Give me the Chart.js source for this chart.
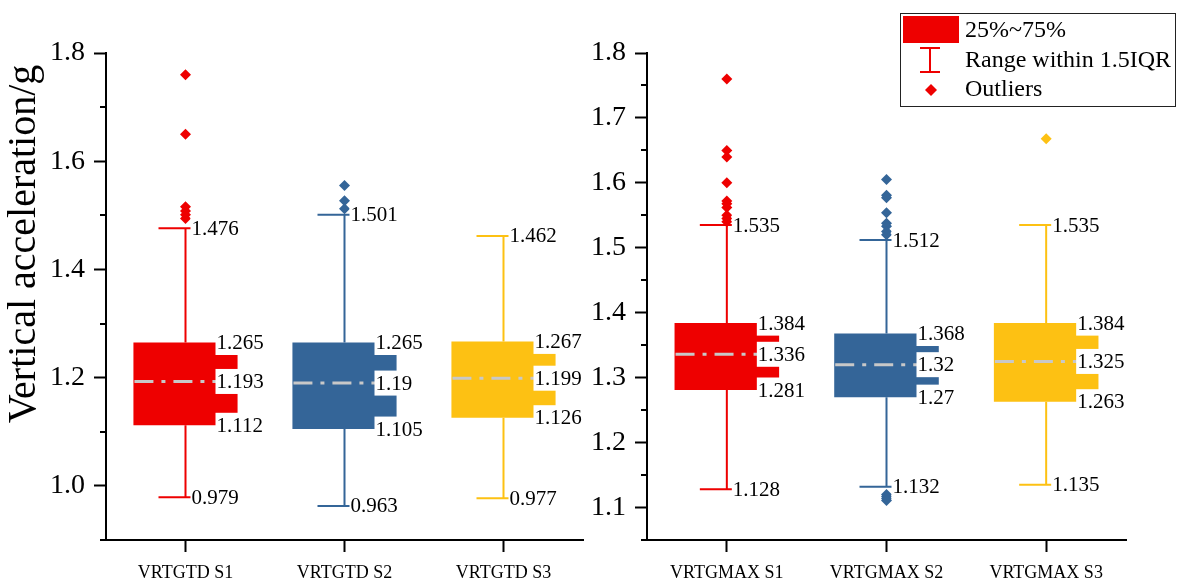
<!DOCTYPE html>
<html>
<head>
<meta charset="utf-8">
<script src="https://cdn.jsdelivr.net/npm/chart.js@4.4.0/dist/chart.umd.min.js"></script>
<style>
  html, body { margin: 0; padding: 0; background: #fff; }
  #wrap { position: relative; width: 1177px; height: 580px; overflow: hidden; }
  #left { position: absolute; left: 0; top: 0; }
  #right { position: absolute; left: 560px; top: 0; }
</style>
</head>
<body>
<div id="wrap">
  <canvas id="left" width="600" height="580"></canvas>
  <canvas id="right" width="617" height="580"></canvas>
</div>
<script>
// ---- data ----
const tdLabels = ["VRTGTD S1", "VRTGTD S2", "VRTGTD S3"];
const tdMin = [0.979, 0.963, 0.977];
const tdQ1 = [1.112, 1.105, 1.126];
const tdMed = [1.193, 1.19, 1.199];
const tdQ3 = [1.265, 1.265, 1.267];
const tdMax = [1.476, 1.501, 1.462];
const tdOutliers = [
  [1.76, 1.65, 1.516, 1.508, 1.501, 1.494],
  [1.555, 1.527, 1.512],
  []
];
const tdTicks = [1.0, 1.2, 1.4, 1.6, 1.8];
const tdMinorTicks = [0.9, 1.1, 1.3, 1.5, 1.7];

const gmLabels = ["VRTGMAX S1", "VRTGMAX S2", "VRTGMAX S3"];
const gmMin = [1.128, 1.132, 1.135];
const gmQ1 = [1.281, 1.27, 1.263];
const gmMed = [1.336, 1.32, 1.325];
const gmQ3 = [1.384, 1.368, 1.384];
const gmMax = [1.535, 1.512, 1.535];
const gmOutliers = [
  [1.76, 1.65, 1.64, 1.6, 1.572, 1.568, 1.562, 1.55, 1.545, 1.54],
  [1.605, 1.581, 1.577, 1.554, 1.538, 1.533, 1.525, 1.52, 1.12, 1.117, 1.114, 1.111],
  [1.668]
];
const gmTicks = [1.1, 1.2, 1.3, 1.4, 1.5, 1.6, 1.7, 1.8];
const gmMinorTicks = [1.05, 1.15, 1.25, 1.35, 1.45, 1.55, 1.65, 1.75];

const colors = ["#ee0000", "#346598", "#fdc113"];
const serif = '"Liberation Serif", "Times New Roman", serif';

// whiskers, medians, value labels, minor ticks
function boxExtras(stats) {
  return {
    id: "boxExtras",
    beforeDatasetsDraw(chart) {
      const { ctx, scales: { x, y } } = chart;
      ctx.save();
      ctx.lineWidth = 2;
      stats.min.forEach((_, i) => {
        const cx = x.getPixelForValue(i);
        ctx.strokeStyle = colors[i];
        ctx.beginPath();
        ctx.moveTo(cx, y.getPixelForValue(stats.max[i]));
        ctx.lineTo(cx, y.getPixelForValue(stats.q3[i]));
        ctx.moveTo(cx, y.getPixelForValue(stats.q1[i]));
        ctx.lineTo(cx, y.getPixelForValue(stats.min[i]));
        [stats.max[i], stats.min[i]].forEach((v) => {
          const py = y.getPixelForValue(v);
          ctx.moveTo(cx - 27, py);
          ctx.lineTo(cx + 27, py);
        });
        ctx.stroke();
      });
      ctx.restore();
    },
    afterDatasetsDraw(chart) {
      const { ctx, scales: { x, y } } = chart;
      const bars = chart.getDatasetMeta(0).data;
      ctx.save();
      // median lines
      ctx.strokeStyle = "#c8c8c8";
      ctx.lineWidth = 3;
      ctx.setLineDash([19, 8, 4, 8]);
      bars.forEach((bar, i) => {
        const py = y.getPixelForValue(stats.med[i]);
        ctx.beginPath();
        ctx.moveTo(bar.x - bar.width / 2 + 1, py);
        ctx.lineTo(bar.x + bar.width / 2, py);
        ctx.stroke();
      });
      ctx.setLineDash([]);
      // value labels with white background
      ctx.font = "21px " + serif;
      ctx.textBaseline = "middle";
      const label = (v, lx) => {
        const py = y.getPixelForValue(v);
        const txt = String(v);
        const w = ctx.measureText(txt).width;
        ctx.fillStyle = "#fff";
        ctx.fillRect(lx - 1, py - 12.5, w + 4, 25);
        ctx.fillStyle = "#000";
        ctx.fillText(txt, lx, py + 1);
      };
      stats.min.forEach((_, i) => {
        const cx = x.getPixelForValue(i);
        label(stats.max[i], cx + 6);
        label(stats.min[i], cx + 6);
        label(stats.q3[i], cx + 31);
        label(stats.med[i], cx + 31);
        label(stats.q1[i], cx + 31);
      });
      // minor ticks on the y axis
      ctx.strokeStyle = "#000";
      ctx.lineWidth = 2;
      ctx.beginPath();
      stats.minor.forEach((v) => {
        const py = Math.round(y.getPixelForValue(v));
        ctx.moveTo(y.right - 6, py);
        ctx.lineTo(y.right, py);
      });
      ctx.stroke();
      ctx.restore();
    }
  };
}

function makeChart(id, labels, stats, ticks, yMin, yMax, outliers, layout, extraPlugins) {
  const datasets = [{
    type: "bar",
    data: labels.map((_, i) => [stats.q1[i], stats.q3[i]]),
    backgroundColor: colors,
    borderWidth: 0,
    barPercentage: 0.655,
    categoryPercentage: 1,
    order: 2
  }];
  outliers.forEach((list, i) => {
    datasets.push({
      type: "line",
      data: list.map((v) => ({ x: labels[i], y: v })),
      showLine: false,
      pointStyle: "rectRot",
      pointRadius: 5.5,
      pointHoverRadius: 5.5,
      pointBackgroundColor: colors[i],
      pointBorderColor: colors[i],
      pointBorderWidth: 0,
      order: 1
    });
  });
  return new Chart(document.getElementById(id), {
    type: "bar",
    data: { labels, datasets },
    options: {
      responsive: false,
      devicePixelRatio: 1,
      animation: false,
      layout: { padding: layout.padding },
      plugins: { legend: { display: false }, tooltip: { enabled: false } },
      scales: {
        x: {
          offset: true,
          afterFit: (s) => { s.height = 40; },
          grid: { offset: false, drawOnChartArea: false, tickLength: 12, tickWidth: 2, tickColor: "#000" },
          border: { color: "#000", width: 2 },
          ticks: { color: "#000", font: { family: serif, size: 18 }, padding: 10 }
        },
        y: {
          min: yMin,
          max: yMax,
          afterFit: (s) => { s.width = layout.yWidth; },
          afterBuildTicks: (s) => { s.ticks = ticks.map((v) => ({ value: v })); },
          grid: { drawOnChartArea: false, tickLength: 12, tickWidth: 2, tickColor: "#000" },
          border: { color: "#000", width: 2 },
          ticks: { color: "#000", font: { family: serif, size: 28 }, padding: 9, callback: (v) => v.toFixed(1) }
        }
      }
    },
    plugins: [boxExtras(stats)].concat(extraPlugins)
  });
}

const yTitle = {
  id: "yTitle",
  afterDraw(chart) {
    const { ctx } = chart;
    ctx.save();
    ctx.translate(24, 244);
    ctx.rotate(-Math.PI / 2);
    ctx.font = "40px " + serif;
    ctx.fillStyle = "#000";
    ctx.textAlign = "center";
    ctx.textBaseline = "middle";
    ctx.fillText("Vertical acceleration/g", 0, 0);
    ctx.restore();
  }
};

const boxLegend = {
  id: "boxLegend",
  afterDraw(chart) {
    const { ctx } = chart;
    ctx.save();
    ctx.translate(40, 0);
    ctx.fillStyle = "#fff";
    ctx.fillRect(300, 13, 276, 94);
    ctx.strokeStyle = "#222";
    ctx.lineWidth = 1;
    ctx.strokeRect(300.5, 13.5, 275, 93);
    ctx.fillStyle = colors[0];
    ctx.fillRect(303, 16, 56, 27);
    ctx.strokeStyle = colors[0];
    ctx.lineWidth = 2;
    ctx.beginPath();
    ctx.moveTo(320, 48); ctx.lineTo(340, 48);
    ctx.moveTo(330, 48); ctx.lineTo(330, 72);
    ctx.moveTo(320, 72); ctx.lineTo(340, 72);
    ctx.stroke();
    ctx.beginPath();
    ctx.moveTo(331, 84); ctx.lineTo(337, 90); ctx.lineTo(331, 96); ctx.lineTo(325, 90);
    ctx.closePath();
    ctx.fill();
    ctx.fillStyle = "#000";
    ctx.font = "24px " + serif;
    ctx.textBaseline = "middle";
    ctx.fillText("25%~75%", 365, 31);
    ctx.fillText("Range within 1.5IQR", 365, 61);
    ctx.fillText("Outliers", 365, 90);
    ctx.restore();
  }
};

makeChart("left", tdLabels,
  { min: tdMin, q1: tdQ1, med: tdMed, q3: tdQ3, max: tdMax, minor: tdMinorTicks },
  tdTicks, 0.9, 1.8, tdOutliers,
  { padding: { top: 53, left: 0, right: 17, bottom: 0 }, yWidth: 106 },
  [yTitle]);

makeChart("right", gmLabels,
  { min: gmMin, q1: gmQ1, med: gmMed, q3: gmQ3, max: gmMax, minor: gmMinorTicks },
  gmTicks, 1.05, 1.8, gmOutliers,
  { padding: { top: 53, left: 0, right: 51, bottom: 0 }, yWidth: 87 },
  [boxLegend]);
</script>
</body>
</html>
